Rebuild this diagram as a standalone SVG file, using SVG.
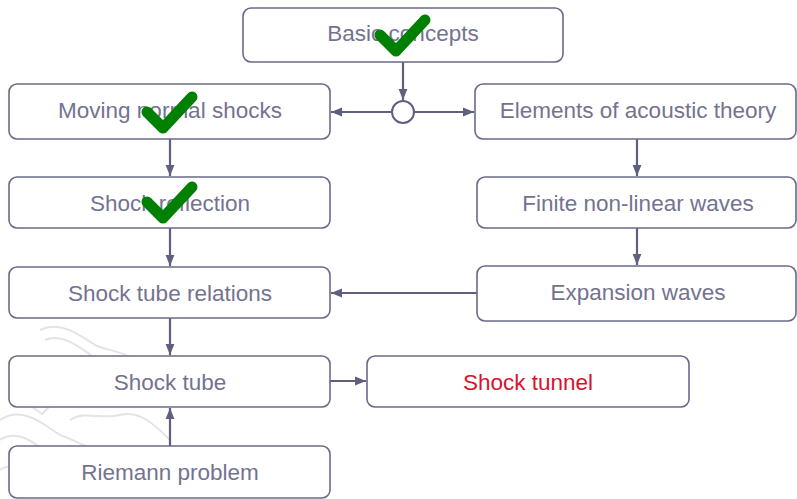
<svg xmlns="http://www.w3.org/2000/svg" width="797" height="499" viewBox="0 0 797 499">
<style>
.box{fill:#ffffff;stroke:#6a6a88;stroke-width:1.6}
.lbl{font-family:"Liberation Sans",Arial,sans-serif;font-size:22.5px;fill:#737390;text-anchor:middle}
.red{fill:#d9102f}
.con{stroke:#5f5f7f;stroke-width:2.2;fill:none}
.chk{fill:none;stroke:#008000;stroke-width:11;stroke-linecap:round;stroke-linejoin:round}
.wm{fill:none;stroke:#e4e4e4;stroke-width:2;stroke-linejoin:round}
</style>
<defs>
<marker id="ah" viewBox="0 0 10 10" refX="10" refY="5" markerWidth="11" markerHeight="11" markerUnits="userSpaceOnUse" orient="auto">
<path d="M0,1 L10,5 L0,9 Z" fill="#5f5f7f"/>
</marker>
<path id="check" d="M-23,0 L-7,16 L22,-15"/>
</defs>
<rect width="797" height="499" fill="#ffffff"/>
<g id="watermark" class="wm">
<path d="M40,330 C60,320 80,335 95,345 C110,352 125,350 140,365 C150,378 165,385 180,395"/>
<path d="M45,340 C62,333 78,346 92,356 C108,364 120,362 132,376"/>
<path d="M0,420 C15,410 30,415 45,425 L60,435 C75,440 90,450 110,455"/>
<path d="M0,440 C12,432 25,436 38,446"/>
<path d="M70,420 C85,410 100,420 120,415 C140,410 155,425 170,440"/>
<path d="M30,395 L48,408 L42,414 L25,402 Z"/>
<path d="M0,470 C10,462 20,470 30,480"/>
</g>
<g id="connectors">
<line class="con" x1="403" y1="62" x2="403" y2="100" marker-end="url(#ah)"/>
<line class="con" x1="392" y1="112" x2="331" y2="112" marker-end="url(#ah)"/>
<line class="con" x1="414" y1="112" x2="474" y2="112" marker-end="url(#ah)"/>
<line class="con" x1="170" y1="139" x2="170" y2="176" marker-end="url(#ah)"/>
<line class="con" x1="170" y1="228" x2="170" y2="266" marker-end="url(#ah)"/>
<line class="con" x1="170" y1="318" x2="170" y2="355" marker-end="url(#ah)"/>
<line class="con" x1="170" y1="446" x2="170" y2="408" marker-end="url(#ah)"/>
<line class="con" x1="330" y1="381" x2="366" y2="381" marker-end="url(#ah)"/>
<line class="con" x1="637" y1="139" x2="637" y2="176" marker-end="url(#ah)"/>
<line class="con" x1="637" y1="228" x2="637" y2="265" marker-end="url(#ah)"/>
<line class="con" x1="477" y1="293" x2="331" y2="293" marker-end="url(#ah)"/>
</g>
<g id="junction"><circle cx="403" cy="112" r="11" fill="#ffffff" stroke="#5f5f7f" stroke-width="2"/></g>
<g id="basic"><rect class="box" x="243" y="8" width="320" height="54" rx="8"/><text class="lbl" x="403" y="41">Basic concepts</text></g>
<g id="moving"><rect class="box" x="9" y="84" width="321" height="55" rx="8"/><text class="lbl" x="170" y="118">Moving normal shocks</text></g>
<g id="reflection"><rect class="box" x="9" y="177" width="321" height="51" rx="8"/><text class="lbl" x="170" y="211">Shock reflection</text></g>
<g id="relations"><rect class="box" x="9" y="267" width="321" height="51" rx="8"/><text class="lbl" x="170" y="301">Shock tube relations</text></g>
<g id="tube"><rect class="box" x="9" y="356" width="321" height="51" rx="8"/><text class="lbl" x="170" y="390">Shock tube</text></g>
<g id="riemann"><rect class="box" x="9" y="446" width="321" height="52" rx="8"/><text class="lbl" x="170" y="480">Riemann problem</text></g>
<g id="acoustic"><rect class="box" x="475" y="84" width="321" height="55" rx="8"/><text class="lbl" x="638" y="118">Elements of acoustic theory</text></g>
<g id="finite"><rect class="box" x="477" y="177" width="319" height="51" rx="8"/><text class="lbl" x="638" y="211">Finite non-linear waves</text></g>
<g id="expansion"><rect class="box" x="477" y="266" width="319" height="55" rx="8"/><text class="lbl" x="638" y="300">Expansion waves</text></g>
<g id="tunnel"><rect class="box" x="367" y="356" width="322" height="51" rx="8"/><text class="lbl red" x="528" y="390">Shock tunnel</text></g>
<g id="checks" class="chk">
<use href="#check" x="403" y="35"/>
<use href="#check" x="170" y="112"/>
<use href="#check" x="170" y="202"/>
</g>
</svg>
